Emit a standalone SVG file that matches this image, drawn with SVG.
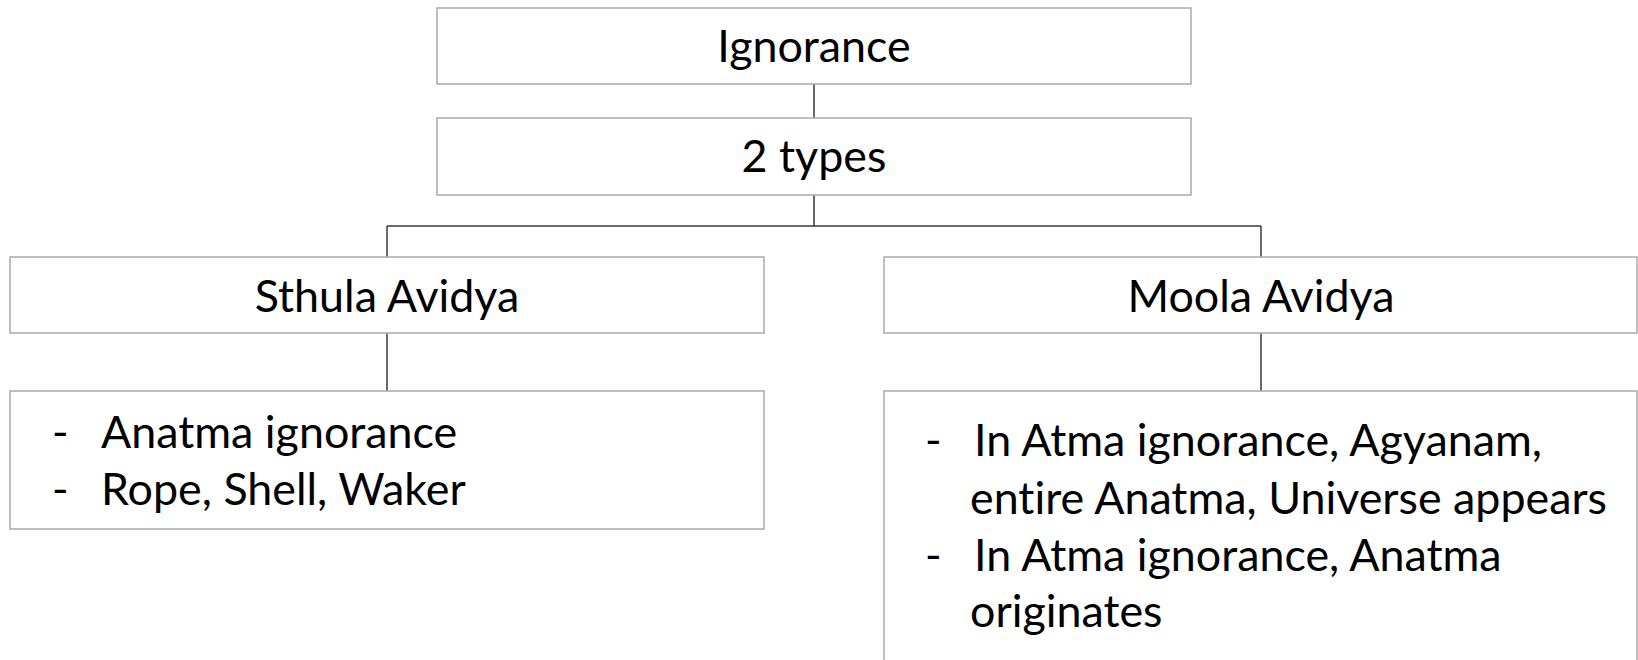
<svg xmlns="http://www.w3.org/2000/svg" width="1638" height="660" viewBox="0 0 1638 660">
  <style>
    .box { fill: #ffffff; stroke: #ababab; stroke-width: 1.5; }
    .link { fill: none; stroke: #3a3a3a; stroke-width: 1.5; }
    .t { font-family: Lato, "Liberation Sans", sans-serif; font-size: 44.8px; fill: #000000; font-variant-ligatures: none; }
    .c { text-anchor: middle; }
  </style>
  <rect width="1638" height="660" fill="#ffffff"/>

  <g id="connectors">
    <path class="link" d="M814 84 V118"/>
    <path class="link" d="M814 195 V226"/>
    <path class="link" d="M387 226 H1261"/>
    <path class="link" d="M387 226 V257"/>
    <path class="link" d="M1261 226 V257"/>
    <path class="link" d="M387 333 V391"/>
    <path class="link" d="M1261 333 V391"/>
  </g>

  <g id="ignorance">
    <rect class="box" x="437" y="8" width="754" height="76"/>
    <text class="t c" x="814" y="62">Ignorance</text>
  </g>

  <g id="two-types">
    <rect class="box" x="437" y="118" width="754" height="77"/>
    <text class="t c" x="814" y="172">2 types</text>
  </g>

  <g id="sthula-avidya">
    <rect class="box" x="10" y="257" width="754" height="76"/>
    <text class="t c" x="387" y="312">Sthula Avidya</text>
  </g>

  <g id="moola-avidya">
    <rect class="box" x="884" y="257" width="753" height="76"/>
    <text class="t c" x="1261" y="312">Moola Avidya</text>
  </g>

  <g id="sthula-details">
    <rect class="box" x="10" y="391" width="754" height="138"/>
    <text class="t" x="52" y="448">-</text>
    <text class="t" x="101" y="448">Anatma ignorance</text>
    <text class="t" x="52" y="505">-</text>
    <text class="t" x="101" y="505">Rope, Shell, Waker</text>
  </g>

  <g id="moola-details">
    <rect class="box" x="884" y="391" width="753" height="290"/>
    <text class="t" x="925" y="456">-</text>
    <text class="t" x="974" y="456">In Atma ignorance, Agyanam,</text>
    <text class="t" x="970" y="514">entire Anatma, Universe appears</text>
    <text class="t" x="925" y="571">-</text>
    <text class="t" x="974" y="571">In Atma ignorance, Anatma</text>
    <text class="t" x="970" y="627">originates</text>
  </g>
</svg>
